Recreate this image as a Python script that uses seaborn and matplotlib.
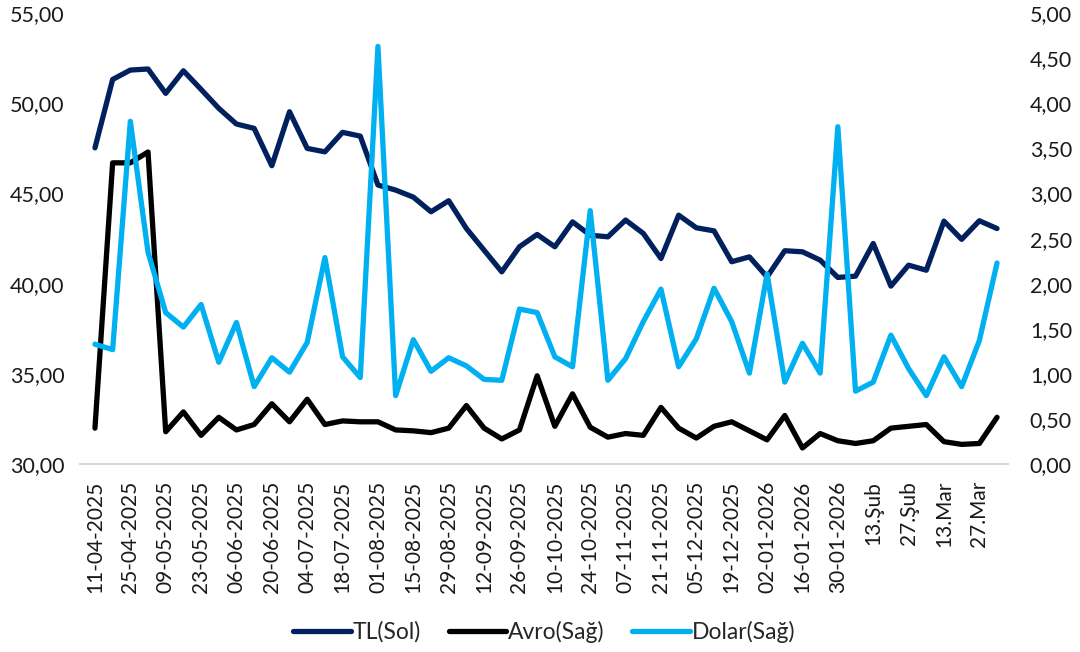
import numpy as np
import pandas as pd
import seaborn as sns
import matplotlib.pyplot as plt
from matplotlib.ticker import FuncFormatter, MultipleLocator

# weekly series, 11-04-2025 .. 03-04-2026
tl = [47.53, 51.32, 51.84, 51.90, 50.55, 51.80, 50.77, 49.72, 48.85, 48.61,
      46.54, 49.53, 47.50, 47.31, 48.39, 48.18, 45.47, 45.19, 44.80, 43.99,
      44.60, 43.06, 41.86, 40.66, 42.05, 42.73, 42.05, 43.43, 42.69, 42.60,
      43.53, 42.79, 41.40, 43.80, 43.10, 42.93, 41.22, 41.49, 40.38, 41.83,
      41.77, 41.31, 40.35, 40.42, 42.23, 39.87, 41.03, 40.75, 43.47, 42.46,
      43.49, 43.06]
avro = [0.40, 3.34, 3.34, 3.46, 0.36, 0.58, 0.32, 0.52, 0.38, 0.44,
        0.67, 0.47, 0.72, 0.44, 0.48, 0.47, 0.47, 0.38, 0.37, 0.35,
        0.40, 0.65, 0.40, 0.28, 0.38, 0.98, 0.42, 0.78, 0.41, 0.30,
        0.34, 0.32, 0.63, 0.40, 0.29, 0.42, 0.47, 0.37, 0.27, 0.54,
        0.18, 0.34, 0.26, 0.23, 0.26, 0.40, 0.42, 0.44, 0.25, 0.22,
        0.23, 0.52]
dolar = [1.33, 1.27, 3.80, 2.35, 1.68, 1.52, 1.77, 1.13, 1.57, 0.86,
         1.18, 1.02, 1.35, 2.29, 1.19, 0.96, 4.63, 0.76, 1.38, 1.03,
         1.18, 1.09, 0.94, 0.93, 1.72, 1.68, 1.19, 1.08, 2.81, 0.93,
         1.17, 1.58, 1.94, 1.08, 1.39, 1.95, 1.58, 1.01, 2.11, 0.91,
         1.34, 1.01, 3.74, 0.81, 0.91, 1.43, 1.06, 0.76, 1.19, 0.86,
         1.37, 2.23]
tick_labels = ["11-04-2025", "25-04-2025", "09-05-2025", "23-05-2025", "06-06-2025",
               "20-06-2025", "04-07-2025", "18-07-2025", "01-08-2025", "15-08-2025",
               "29-08-2025", "12-09-2025", "26-09-2025", "10-10-2025", "24-10-2025",
               "07-11-2025", "21-11-2025", "05-12-2025", "19-12-2025", "02-01-2026",
               "16-01-2026", "30-01-2026", "13.Şub", "27.Şub", "13.Mar", "27.Mar"]

df = pd.DataFrame({"week": np.arange(len(tl)), "TL": tl, "Avro": avro, "Dolar": dolar})

sns.set_style("white")
plt.rcParams['font.family'] = ['Lato', 'DejaVu Sans']

fig = plt.figure(figsize=(10.8, 6.52), dpi=100)
ax = fig.add_axes([0.074, 0.288, 0.859, 0.692])
ax2 = ax.twinx()

navy = "#00215E"
light = "#00B0F0"

sns.lineplot(data=df, x="week", y="TL", ax=ax, color=navy, lw=3.8, label="TL(Sol)", legend=False)
sns.lineplot(data=df, x="week", y="Avro", ax=ax2, color="black", lw=3.8, label="Avro(Sağ)", legend=False)
sns.lineplot(data=df, x="week", y="Dolar", ax=ax2, color=light, lw=3.8, label="Dolar(Sağ)", legend=False)

ax.set_ylim(30, 55)
ax2.set_ylim(0, 5)
ax.yaxis.set_major_locator(MultipleLocator(5))
ax2.yaxis.set_major_locator(MultipleLocator(0.5))
comma = FuncFormatter(lambda v, p: f"{v:.2f}".replace(".", ","))
ax.yaxis.set_major_formatter(comma)
ax2.yaxis.set_major_formatter(comma)

ax.set_xlim(-0.85, 51.6)
ax.set_xticks(np.arange(0, len(tl), 2))
ax.set_xticklabels(tick_labels, rotation=90, va="top", ha="center")
ax.set_xlabel("")
ax.set_ylabel("")
ax2.set_ylabel("")

for a in (ax, ax2):
    for s in a.spines.values():
        s.set_visible(False)
    a.tick_params(length=0, labelsize=15.5, colors="#1a1a1a")
ax.spines["bottom"].set_visible(True)
ax.spines["bottom"].set_color("#d9d9d9")
ax.spines["bottom"].set_linewidth(1.5)
ax.tick_params(axis="x", labelsize=15, pad=12)
ax.tick_params(axis="y", pad=11)
ax2.tick_params(axis="y", pad=16)

h1, l1 = ax.get_legend_handles_labels()
h2, l2 = ax2.get_legend_handles_labels()
fig.legend(h1 + h2, l1 + l2, loc="center", bbox_to_anchor=(0.504, 0.031), ncol=3,
           frameon=False, fontsize=16.5, handlelength=2.5, handletextpad=0.1, columnspacing=1.2)

fig.savefig("out.png", dpi=100)
